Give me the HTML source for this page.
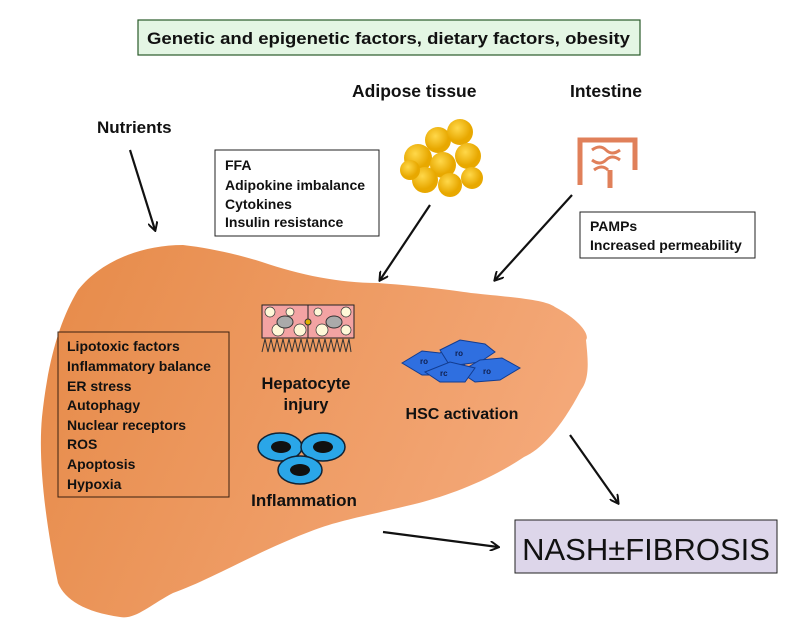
<!DOCTYPE html>
<html><head><meta charset="utf-8"><style>
body{margin:0;background:#fff}
svg{display:block;font-family:"Liberation Sans",sans-serif}
.b{font-weight:bold;font-size:14px;fill:#111}
</style></head><body>
<svg width="812" height="629" viewBox="0 0 812 629">
<defs>
<linearGradient id="lg" x1="0" y1="0" x2="1" y2="0.3">
<stop offset="0" stop-color="#e68a48"/><stop offset="1" stop-color="#f4a878"/></linearGradient>
<marker id="ar" markerWidth="10" markerHeight="10" refX="8" refY="5" orient="auto" markerUnits="userSpaceOnUse">
<path d="M0,0 L9,5 L0,10" fill="none" stroke="#111" stroke-width="2"/></marker>
<radialGradient id="fat" cx="0.4" cy="0.35"><stop offset="0" stop-color="#ffd84a"/><stop offset="1" stop-color="#e8a800"/></radialGradient>
</defs>
<rect x="138" y="20" width="502" height="35" fill="#e4f6e4" stroke="#2a5a2a" stroke-width="1.2"/>
<text x="147" y="44" class="b" style="font-size:17px" textLength="483" lengthAdjust="spacingAndGlyphs">Genetic and epigenetic factors, dietary factors, obesity</text>
<text x="97" y="133" class="b" style="font-size:17px">Nutrients</text>
<text x="352" y="97" class="b" style="font-size:17.5px">Adipose tissue</text>
<text x="570" y="97" class="b" style="font-size:17.5px">Intestine</text>
<path d="M183,245 C210,248 240,255 262,262 C300,275 340,283 377,283 C420,286 450,290 471,293 C520,298 545,300 555,307 C580,320 590,335 586,340 C588,360 590,378 581,390 C560,430 540,450 524,457 C490,480 450,495 419,503 C370,515 340,520 314,530 C260,550 210,580 173,593 C150,605 135,620 120,617 C85,612 65,600 58,583 C45,520 38,460 42,417 C48,360 60,320 78,290 C100,262 140,245 183,245 Z" fill="url(#lg)"/>
<rect x="215" y="150" width="164" height="86" fill="#fff" stroke="#222"/>
<text class="b"><tspan x="225" y="170">FFA</tspan><tspan x="225" y="190">Adipokine imbalance</tspan><tspan x="225" y="209">Cytokines</tspan><tspan x="225" y="227">Insulin resistance</tspan></text>
<rect x="580" y="212" width="175" height="46" fill="#fff" stroke="#222"/>
<text class="b"><tspan x="590" y="231">PAMPs</tspan><tspan x="590" y="250">Increased permeability</tspan></text>
<rect x="58" y="332" width="171" height="165" fill="none" stroke="#3a2010"/>
<text class="b"><tspan x="67" y="351">Lipotoxic factors</tspan><tspan x="67" y="371">Inflammatory balance</tspan><tspan x="67" y="391">ER stress</tspan><tspan x="67" y="410">Autophagy</tspan><tspan x="67" y="430">Nuclear receptors</tspan><tspan x="67" y="449">ROS</tspan><tspan x="67" y="469">Apoptosis</tspan><tspan x="67" y="489">Hypoxia</tspan></text>
<g fill="url(#fat)">
<circle cx="418" cy="158" r="14"/><circle cx="438" cy="140" r="13"/><circle cx="460" cy="132" r="13"/><circle cx="468" cy="156" r="13"/><circle cx="443" cy="165" r="13"/><circle cx="425" cy="180" r="13"/><circle cx="450" cy="185" r="12"/><circle cx="472" cy="178" r="11"/><circle cx="410" cy="170" r="10"/></g>
<g fill="none" stroke="#e0805a" stroke-width="5"><path d="M580,185 V140 H635 V170 M610,170 V188"/><path d="M592,150 q8,-6 14,0 t14,0 M592,160 q8,6 14,0 t14,0 M594,170 q8,-6 14,0" stroke-width="3"/></g>
<rect x="262" y="305" width="92" height="33" fill="#f3a3a3" stroke="#222"/>
<line x1="308" y1="305" x2="308" y2="338" stroke="#222"/>
<g fill="#fff8d8" stroke="#333" stroke-width=".7"><circle cx="270" cy="312" r="5"/><circle cx="290" cy="312" r="4"/><circle cx="318" cy="312" r="4"/><circle cx="346" cy="312" r="5"/><circle cx="278" cy="330" r="6"/><circle cx="300" cy="330" r="6"/><circle cx="322" cy="330" r="6"/><circle cx="346" cy="330" r="5"/></g>
<ellipse cx="285" cy="322" rx="8" ry="6" fill="#aaa" stroke="#333"/><ellipse cx="334" cy="322" rx="8" ry="6" fill="#aaa" stroke="#333"/>
<circle cx="308" cy="322" r="3" fill="#e0b000" stroke="#333"/>
<path d="M262,352 l3,-13 l3,13 l3,-13 l3,13 l3,-13 l3,13 l3,-13 l3,13 l3,-13 l3,13 l3,-13 l3,13 l3,-13 l3,13 l3,-13 l3,13 l3,-13 l3,13 l3,-13 l3,13 l3,-13 l3,13 l3,-13 l3,13 l3,-13 l3,13 l3,-13 l3,13 l3,-13 l2,13" fill="none" stroke="#333" stroke-width="1"/>
<text x="306" y="389" text-anchor="middle" class="b" style="font-size:16.5px">Hepatocyte</text>
<text x="306" y="410" text-anchor="middle" class="b" style="font-size:16.5px">injury</text>
<g fill="#2f6fe0" stroke="#123c90" stroke-width="1">
<path d="M402,363 l20,-12 l18,2 l15,-8 l20,6 l-8,12 l-20,12 l-25,0 z"/>
<path d="M440,350 l20,-10 l25,4 l10,8 l-15,10 l-30,4 z"/>
<path d="M460,372 l20,-12 l22,-2 l18,10 l-20,12 l-25,2 z"/>
<path d="M425,372 l25,-10 l25,6 l-10,14 l-25,0 z"/></g>
<g fill="#102050" font-size="8" font-weight="bold"><text x="420" y="364">ro</text><text x="455" y="356">ro</text><text x="483" y="374">ro</text><text x="440" y="376">rc</text></g>
<text x="462" y="419" text-anchor="middle" class="b" style="font-size:16px">HSC activation</text>
<g stroke="#123" stroke-width="1.5"><ellipse cx="280" cy="447" rx="22" ry="14" fill="#2aa6e8"/><ellipse cx="323" cy="447" rx="22" ry="14" fill="#2aa6e8"/><ellipse cx="300" cy="470" rx="22" ry="14" fill="#2aa6e8"/></g>
<g fill="#111"><ellipse cx="281" cy="447" rx="10" ry="6"/><ellipse cx="323" cy="447" rx="10" ry="6"/><ellipse cx="300" cy="470" rx="10" ry="6"/></g>
<text x="304" y="506" text-anchor="middle" class="b" style="font-size:17px">Inflammation</text>
<g stroke="#111" stroke-width="2.2" marker-end="url(#ar)">
<line x1="130" y1="150" x2="155" y2="230"/><line x1="430" y1="205" x2="380" y2="280"/><line x1="572" y1="195" x2="495" y2="280"/><line x1="570" y1="435" x2="618" y2="503"/><line x1="383" y1="532" x2="498" y2="547"/></g>
<rect x="515" y="520" width="262" height="53" fill="#ddd6ea" stroke="#222"/>
<text x="646" y="560" text-anchor="middle" font-size="31" fill="#111">NASH±FIBROSIS</text>
</svg>
</body></html>
